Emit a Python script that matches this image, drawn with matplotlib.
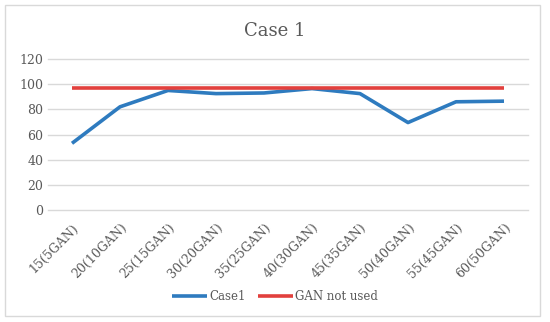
import matplotlib.pyplot as plt
from matplotlib.patches import Rectangle

labels = ["15(5GAN)", "20(10GAN)", "25(15GAN)", "30(20GAN)", "35(25GAN)",
          "40(30GAN)", "45(35GAN)", "50(40GAN)", "55(45GAN)", "60(50GAN)"]
case1 = [53, 82, 95, 92.5, 93, 96.5, 92.5, 69.5, 86, 86.5]
gan_not_used = [97] * 10

plt.rcParams['font.family'] = ['DejaVu Serif']
txt = '#595959'
fig = plt.figure(figsize=(5.5, 3.22), dpi=100)
fig.patches.append(Rectangle((5 / 550, 6 / 322), 535 / 550, 311 / 322, transform=fig.transFigure,
                             fill=False, edgecolor='#d9d9d9', linewidth=1))
ax = fig.add_axes([48 / 550, 112 / 322, 480 / 550, 151 / 322])
x = range(len(labels))
ax.plot(x, case1, color='#2e7bbf', linewidth=2.6, label='Case1', solid_capstyle='butt')
ax.plot(x, gan_not_used, color='#e2403d', linewidth=2.6, label='GAN not used', solid_capstyle='butt')
ax.set_xlim(-0.5, len(labels) - 0.5)
ax.set_ylim(0, 120)
ax.set_yticks(range(0, 121, 20))
ax.set_xticks(list(x))
ax.set_xticklabels(labels, rotation=45, ha='right', rotation_mode='anchor')
ax.tick_params(colors=txt, labelsize=9, length=0)
ax.tick_params(axis='x', pad=8)
ax.grid(axis='y', color='#d9d9d9', linewidth=1)
for gl in ax.get_ygridlines():
    gl.set_clip_on(False)
ax.set_axisbelow(True)
for s in ax.spines.values():
    s.set_visible(False)
fig.text(0.5, 1 - 31 / 322, 'Case 1', ha='center', va='center', fontsize=13, color=txt)
fig.legend(loc='center', bbox_to_anchor=(0.5, 1 - 297 / 322), ncol=2, frameon=False,
           fontsize=8.5, labelcolor=txt, handlelength=3.0, columnspacing=1.0, handletextpad=0.2)
fig.savefig('out.png', dpi=100)
